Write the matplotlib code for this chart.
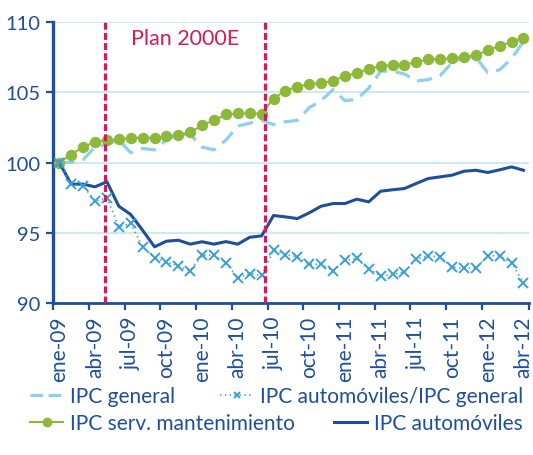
import matplotlib
matplotlib.use("Agg")
import matplotlib.pyplot as plt
from matplotlib.lines import Line2D

# === Data (Jan 2009 - Apr 2012, monthly, base ene-09 = 100) ===
months = ['ene-09', 'feb-09', 'mar-09', 'abr-09', 'may-09', 'jun-09', 'jul-09', 'ago-09', 'sep-09', 'oct-09',
          'nov-09', 'dic-09', 'ene-10', 'feb-10', 'mar-10', 'abr-10', 'may-10', 'jun-10', 'jul-10', 'ago-10',
          'sep-10', 'oct-10', 'nov-10', 'dic-10', 'ene-11', 'feb-11', 'mar-11', 'abr-11', 'may-11', 'jun-11',
          'jul-11', 'ago-11', 'sep-11', 'oct-11', 'nov-11', 'dic-11', 'ene-12', 'feb-12', 'mar-12', 'abr-12']

ipc_general = [100.0, 100.0, 100.2, 101.1, 101.3, 101.6, 100.7, 101.0, 100.9, 101.6,
               102.0, 102.0, 101.1, 100.9, 101.6, 102.6, 102.8, 103.0, 102.7, 102.9,
               103.0, 103.9, 104.4, 105.2, 104.4, 104.5, 105.3, 106.5, 106.5, 106.3,
               105.8, 105.9, 106.2, 107.1, 107.5, 107.5, 106.4, 106.6, 107.4, 108.6]

ipc_ratio = [100.0, 98.46, 98.34, 97.25, 97.49, 95.42, 95.66, 94.0, 93.22, 92.93,
             92.62, 92.31, 93.4, 93.4, 92.86, 91.79, 92.1, 91.96, 93.76, 93.45,
             93.29, 92.76, 92.76, 92.29, 93.05, 93.17, 92.41, 91.93, 92.03, 92.22,
             93.12, 93.36, 93.26, 92.57, 92.46, 92.5, 93.36, 93.36, 92.86, 91.44]

ipc_mant = [100.0, 100.57, 101.1, 101.47, 101.57, 101.64, 101.76, 101.76, 101.76, 101.87,
            101.97, 102.14, 102.66, 103.0, 103.42, 103.49, 103.49, 103.48, 104.55, 105.12,
            105.41, 105.57, 105.67, 105.81, 106.17, 106.36, 106.67, 106.86, 106.95, 106.95,
            107.14, 107.35, 107.35, 107.42, 107.52, 107.64, 107.99, 108.3, 108.59, 108.87]

ipc_auto = [100.0, 98.46, 98.46, 98.27, 98.63, 96.89, 96.3, 95.18, 94.0, 94.4,
            94.47, 94.19, 94.36, 94.19, 94.37, 94.19, 94.68, 94.78, 96.23, 96.13,
            96.01, 96.42, 96.89, 97.08, 97.08, 97.39, 97.2, 97.96, 98.06, 98.15,
            98.51, 98.86, 98.98, 99.1, 99.38, 99.45, 99.29, 99.48, 99.69, 99.45]

# plan 2000E start / end (in month index units)
plan_lines = [3.85, 17.3]
plan_label = 'Plan 2000E'

# === Style ===
DARK = '#1F4E9C'
LIGHT = '#8FCFEF'
MID = '#3A9FDA'
GREEN = '#8DB83A'
RED = '#D31A5C'
GRID = '#C8E7F6'

plt.rcParams['font.family'] = ['Lato', 'DejaVu Sans']
plt.rcParams['lines.scale_dashes'] = False

fig = plt.figure(figsize=(5.33, 4.56), dpi=100)
ax = fig.add_axes([0.1001, 0.3333, 0.8932, 0.6162])

x = list(range(len(months)))

ax.plot(x, ipc_general, color=LIGHT, lw=2.3, dashes=(11, 6), zorder=3)
ax.plot(x, ipc_mant, color=GREEN, lw=1.4, marker='o', ms=7.2, zorder=4)
ax.plot(x, ipc_auto, color=DARK, lw=2.2, zorder=5)
ax.plot(x, ipc_ratio, color=MID, lw=1.2, linestyle=(0, (1, 2.5)), marker='x', ms=6.5, mew=1.4, zorder=6)

for xv in plan_lines:
    ax.axvline(xv, color=RED, lw=2.3, dashes=(5, 2.3), zorder=7)
ax.text(10.6, 108.85, plan_label, color=RED, fontsize=15.5, ha='center', va='center')

ax.set_xlim(-0.5, 39.5)
ax.set_ylim(90, 110)
ax.set_yticks([90, 95, 100, 105, 110])
ax.set_yticklabels(['90', '95', '100', '105', '110'])
ax.yaxis.grid(True, color=GRID, lw=1.3, zorder=0)
ax.set_axisbelow(True)

ax.set_xticks(x[::3])
ax.set_xticklabels(months[::3], rotation=90)
ax.set_xticks([-0.5 + 3 * k for k in range(13)] + [39.5], minor=True)
ax.tick_params(axis='x', which='major', length=0, pad=9, labelsize=15, labelcolor=DARK)
ax.tick_params(axis='x', which='minor', length=5, width=1.6, color=DARK, direction='out')
ax.tick_params(axis='y', length=5, width=1.6, color=DARK, pad=4, labelsize=14.5, labelcolor=DARK)

for s in ['top', 'right']:
    ax.spines[s].set_visible(False)
ax.spines['left'].set_color(DARK)
ax.spines['left'].set_linewidth(2.4)
ax.spines['bottom'].set_color(DARK)
ax.spines['bottom'].set_linewidth(2.0)

# === Legend (placed entry by entry, like the original) ===
entries = [
    (Line2D([], [], color=LIGHT, lw=2.3, dashes=(9, 4)), 'IPC general', 30, 397),
    (Line2D([], [], color=MID, lw=1.2, linestyle=(0, (1, 2.5)), marker='x', ms=5, mew=1.4),
     'IPC automóviles/IPC general', 220, 397),
    (Line2D([], [], color=GREEN, lw=1.5, marker='o', ms=6), 'IPC serv. mantenimiento', 30, 424),
    (Line2D([], [], color=DARK, lw=2.2), 'IPC automóviles', 334, 424),
]
W, H = 533, 456
for handle, label, px, py in entries:
    leg = fig.legend([handle], [label], loc='center left', bbox_to_anchor=(px / W, 1 - py / H),
                     frameon=False, borderpad=0, borderaxespad=0, handlelength=1.6,
                     handletextpad=0.3, fontsize=15, labelcolor=DARK)

fig.savefig('out.png', dpi=100)
